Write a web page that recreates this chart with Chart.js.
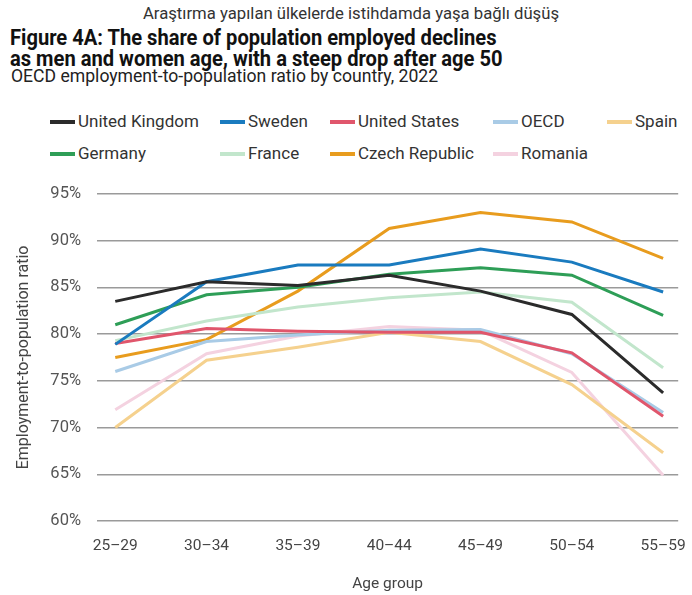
<!DOCTYPE html>
<html><head><meta charset="utf-8">
<script src="https://cdn.jsdelivr.net/npm/chart.js@4"></script>
<style>
body{margin:0;width:692px;height:595px;background:#fff;position:relative;overflow:hidden;font-family:Roboto,sans-serif;}
.t{position:absolute;white-space:nowrap;line-height:1;}
#top{left:0;width:702px;text-align:center;top:6px;font-size:16.7px;color:#333;}
.ti{left:10px;font-size:22px;font-weight:bold;color:#111;transform-origin:0 50%;transform:scaleX(0.915);}
#t1{top:27px;}
#t2{top:48px;}
#sub{left:11px;top:68px;font-size:17.6px;color:#222;}
.lg{position:absolute;font-size:17px;color:#333;white-space:nowrap;line-height:20px;}
.lg i{position:absolute;left:0;top:9px;width:25px;height:3.5px;}
.lg span{position:absolute;left:28px;top:0;}
#wrap{position:absolute;left:0;top:168px;width:694px;height:427px;}
</style></head>
<body>
<div class="t" id="top">Araştırma yapılan ülkelerde istihdamda yaşa bağlı düşüş</div>
<div class="t ti" id="t1">Figure 4A: The share of population employed declines</div>
<div class="t ti" id="t2">as men and women age, with a steep drop after age 50</div>
<div class="t" id="sub">OECD employment-to-population ratio by country, 2022</div>
<div id="legend"></div>
<div id="wrap"><canvas id="c" width="694" height="427"></canvas></div>
<script>
const categories = ['25–29','30–34','35–39','40–44','45–49','50–54','55–59'];
const yTicks = [60,65,70,75,80,85,90,95];
const seriesNames = ['United Kingdom','Sweden','United States','OECD','Spain','Germany','France','Czech Republic','Romania'];
const unitedKingdom = [83.5,85.6,85.2,86.3,84.6,82.1,73.7];
const sweden        = [78.9,85.6,87.4,87.4,89.1,87.7,84.5];
const unitedStates  = [79.0,80.6,80.3,80.2,80.2,78.0,71.2];
const oecd          = [76.0,79.2,79.9,80.4,80.5,77.9,71.6];
const spain         = [70.0,77.2,78.6,80.2,79.2,74.6,67.3];
const germany       = [81.0,84.2,85.0,86.4,87.1,86.3,82.0];
const france        = [79.3,81.4,82.9,83.9,84.5,83.4,76.4];
const czechRepublic = [77.5,79.4,84.6,91.3,93.0,92.0,88.1];
const romania       = [71.9,77.9,79.8,80.8,80.4,75.9,64.9];

const seriesValues = [unitedKingdom,sweden,unitedStates,oecd,spain,germany,france,czechRepublic,romania];
const colors = ['#2b2b2b','#1a7bbf','#e0566c','#a9cbe6','#f5d18e','#2e9e57','#c2e6cc','#e89c1e','#f4d2e0'];
const drawOrder = [0,1,3,5,4,6,2,7,8]; // lower = on top
const legendPos = [[50,111],[220,111],[330,111],[493,111],[607,111],[50,143],[220,143],[330,143],[493,143]];

const lg = document.getElementById('legend');
seriesNames.forEach((n,i)=>{
  const d=document.createElement('div');d.className='lg';
  d.style.left=legendPos[i][0]+'px';d.style.top=legendPos[i][1]+'px';
  d.innerHTML='<i style="background:'+colors[i]+'"></i><span>'+n+'</span>';
  lg.appendChild(d);
});

const datasets = seriesNames.map((n,i)=>({
  label:n,
  data:seriesValues[i].map((v,j)=>({x:j,y:v})),
  borderColor:colors[i],
  backgroundColor:colors[i],
  borderWidth:3,
  pointRadius:0,
  tension:0,
  fill:false,
  order:drawOrder[i]
}));

new Chart(document.getElementById('c'),{
  type:'line',
  data:{datasets},
  options:{
    responsive:false,animation:false,devicePixelRatio:1,
    layout:{padding:{top:9,right:14,left:14,bottom:0}},
    plugins:{legend:{display:false},tooltip:{enabled:false}},
    scales:{
      x:{type:'linear',min:-0.2,max:6.165,
        afterBuildTicks:s=>{s.ticks=categories.map((c,i)=>({value:i}));},
        afterFit:s=>{s.height=74;},
        grid:{display:false},border:{display:false},
        ticks:{autoSkip:false,maxRotation:0,padding:8,color:'#444',font:{family:'Roboto',size:15.5},callback:v=>categories[v]},
        title:{display:true,text:'Age group',color:'#444',font:{family:'Roboto',size:15.5},padding:{top:0,bottom:2}}
      },
      y:{min:60,max:95,
        afterBuildTicks:s=>{s.ticks=yTicks.map(v=>({value:v}));},
        afterFit:s=>{s.width=83;},
        grid:{color:'#9a9a9a',lineWidth:1.5,drawTicks:false},border:{display:false},
        ticks:{padding:16,color:'#555',font:{family:'Roboto',size:16.5},callback:v=>v+'%'},
        title:{display:true,text:'Employment-to-population ratio',color:'#444',font:{family:'Roboto',size:16},padding:{top:0,bottom:0}}
      }
    }
  }
});
</script>
</body></html>
